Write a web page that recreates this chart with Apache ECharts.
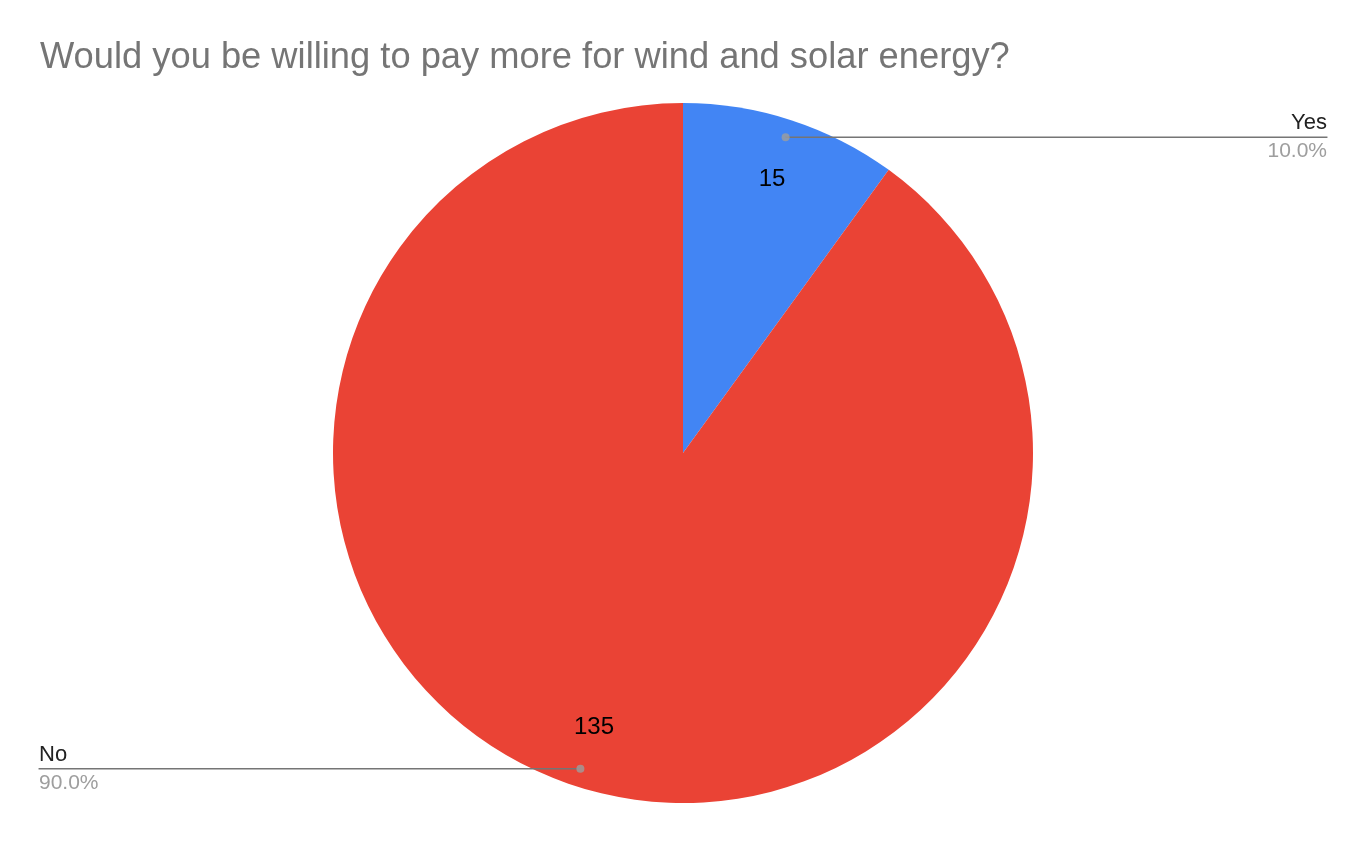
<!DOCTYPE html>
<html>
<head>
<meta charset="utf-8">
<script src="https://cdn.jsdelivr.net/npm/echarts@6/dist/echarts.min.js"></script>
<style>html,body{margin:0;padding:0;background:#fff;}#c{width:1366px;height:842px;}</style>
</head>
<body>
<div id="c"></div>
<script>
const titleText = 'Would you be willing to pay more for wind and solar energy?';
const categories = ['Yes', 'No'];
const values = [15, 135];
const colors = ['#4285F4', '#EA4335'];

const total = values.reduce((a, b) => a + b, 0);
const FONT = '"Liberation Sans", Arial, Helvetica, sans-serif';
const CENTER = [683, 453];
const R = 350;
const LABEL_R = 332;
const NAME_SIZE = 22;
const PCT_SIZE = 21;

const pctText = v => (v / total * 100).toFixed(1) + '%';

// measure label text widths so the leader line runs under the whole label
const mctx = document.createElement('canvas').getContext('2d');
function textW(t, size) { mctx.font = size + 'px ' + FONT; return mctx.measureText(t).width; }

const chart = echarts.init(document.getElementById('c'), null, {renderer: 'canvas'});

const mainData = categories.map((n, i) => ({name: n, value: values[i], itemStyle: {color: colors[i]}}));
const innerData = categories.map((n, i) => ({name: n, value: values[i]}));
const outerData = categories.map((n, i) => {
  const w = Math.max(textW(n, NAME_SIZE), textW(pctText(values[i]), PCT_SIZE));
  return {name: n, value: values[i], label: {distanceToLabelLine: -Math.ceil(w)}};
});
const dots = categories.map((n, i) => {
  let cum = 0; for (let k = 0; k < i; k++) cum += values[k];
  return [LABEL_R / R, cum + values[i] / 2];
});

const option = {
  backgroundColor: '#fff',
  animation: false,
  title: {
    text: titleText, left: 40, top: 40, padding: 0,
    textStyle: {fontFamily: FONT, fontSize: 36.3, fontWeight: 'normal', color: '#757575'}
  },
  polar: {center: CENTER, radius: R},
  angleAxis: {type: 'value', min: 0, max: total, startAngle: 90, clockwise: true, show: false},
  radiusAxis: {type: 'value', min: 0, max: 1, show: false},
  series: [
    {
      type: 'pie', center: CENTER, radius: R, startAngle: 90, clockwise: true,
      data: mainData, label: {show: false}, labelLine: {show: false},
      itemStyle: {borderWidth: 0}, silent: true, emphasis: {disabled: true}, z: 1
    },
    {
      type: 'pie', center: CENTER, radius: [220, R], startAngle: 90, clockwise: true,
      data: innerData, itemStyle: {color: 'transparent'}, silent: true, emphasis: {disabled: true},
      label: {show: true, position: 'inside', formatter: p => String(p.value),
        fontFamily: FONT, fontSize: 24, color: '#000'},
      labelLine: {show: false}, z: 3
    },
    {
      type: 'pie', center: CENTER, radius: LABEL_R, startAngle: 90, clockwise: true,
      data: outerData, itemStyle: {color: 'transparent'}, silent: true, emphasis: {disabled: true},
      avoidLabelOverlap: true,
      label: {
        show: true, position: 'outside', alignTo: 'edge', edgeDistance: 39,
        formatter: p => '{n|' + p.name + '}\n{p|' + pctText(p.value) + '}',
        rich: {
          n: {fontFamily: FONT, fontSize: NAME_SIZE, color: '#222', lineHeight: 28},
          p: {fontFamily: FONT, fontSize: PCT_SIZE, color: '#9e9e9e', lineHeight: 28}
        }
      },
      labelLine: {show: true, length: 0.001, length2: 10, smooth: false,
        lineStyle: {color: '#757575', width: 1.5}},
      z: 2
    },
    {
      type: 'scatter', coordinateSystem: 'polar', data: dots, symbol: 'circle', symbolSize: 8,
      itemStyle: {color: '#9e9e9e'}, silent: true, z: 5
    }
  ]
};
chart.setOption(option);
</script>
</body>
</html>
